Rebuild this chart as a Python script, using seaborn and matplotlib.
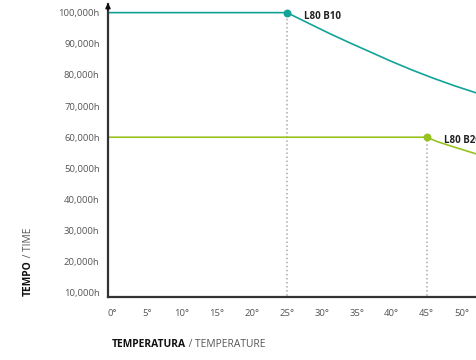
import numpy as np
import pandas as pd
import matplotlib
matplotlib.use('Agg')
import matplotlib.pyplot as plt
import seaborn as sns

# curve data (temperature in degrees, lifetime in hours)
b10_temp = [-1, 25, 28, 31, 34, 37, 40, 43, 46, 49, 52, 53]
b10_hours = [100000, 100000, 96700, 93400, 90300, 87300, 84300, 81500, 78900, 76500, 74300, 73600]
b20_temp = [-1, 45, 46.5, 48, 50, 52, 53]
b20_hours = [60000, 60000, 58600, 57500, 56100, 54700, 54100]

x_ticks = [0, 5, 10, 15, 20, 25, 30, 35, 40, 45, 50]
y_ticks = [10000, 20000, 30000, 40000, 50000, 60000, 70000, 80000, 90000, 100000]

teal = '#12a398'
green = '#98c21f'

df = pd.concat([
    pd.DataFrame({'temp': b10_temp, 'hours': b10_hours, 'curve': 'L80 B10'}),
    pd.DataFrame({'temp': b20_temp, 'hours': b20_hours, 'curve': 'L80 B20'}),
])

sns.set_style('white')
plt.rcParams['font.family'] = ['Open Sans', 'DejaVu Sans']

fig = plt.figure(figsize=(4.77, 3.6), dpi=100)
ax = fig.add_axes([0.2264, 0.175, 0.7736, 0.815])

sns.lineplot(data=df, x='temp', y='hours', hue='curve', palette=[teal, green],
             linewidth=1.2, legend=False, ax=ax)

# knee points with dotted drop lines
for t, h, c, lab in [(25, 100000, teal, 'L80 B10'), (45, 60000, green, 'L80 B20')]:
    ax.plot([t, t], [0, h], color='#aaaaaa', linestyle=':', linewidth=1.1, zorder=1)
    ax.scatter([t], [h], color=c, s=22, zorder=3)
    ax.text(t + 2.5, h - 1200, lab, fontsize=7, fontweight='bold', color='#222222',
            va='center', ha='left')

ax.set_xlim(-0.6, 52.2)
ax.set_ylim(8700, 102900)
ax.set_xticks(x_ticks)
ax.set_xticklabels([f'{t}°' for t in x_ticks])
ax.set_yticks(y_ticks)
ax.set_yticklabels([f'{v:,}h' for v in y_ticks])
ax.tick_params(axis='both', length=0, labelsize=6.8, colors='#555555')
ax.tick_params(axis='x', pad=9)
ax.tick_params(axis='y', pad=6)

for s in ['top', 'right']:
    ax.spines[s].set_visible(False)
for s in ['left', 'bottom']:
    ax.spines[s].set_color('#333333')
    ax.spines[s].set_linewidth(1.6)

# arrow on top of the y axis
ax.annotate('', xy=(0, 1.012), xytext=(0, 0.97), xycoords='axes fraction',
            arrowprops=dict(arrowstyle='-|>', color='#111111', lw=1.2,
                            mutation_scale=7))

ax.set_xlabel('')
ax.set_ylabel('')

# axis titles: bold part followed by light part
fig.canvas.draw()
r = fig.canvas.get_renderer()
t1 = fig.text(0.234, 0.043, 'TEMPERATURA', fontsize=7.4, fontweight='bold', color='#111111',
              ha='left', va='center')
bb = t1.get_window_extent(r)
fig.text(bb.x1 / fig.bbox.width, 0.043, ' / TEMPERATURE', fontsize=7.4, color='#555555',
         ha='left', va='center')
t2 = fig.text(0.06, 0.178, 'TEMPO', fontsize=7.4, fontweight='bold', color='#111111',
              rotation=90, ha='center', va='bottom')
bb = t2.get_window_extent(r)
fig.text(0.06, bb.y1 / fig.bbox.height, ' / TIME', fontsize=7.4, color='#555555',
         rotation=90, ha='center', va='bottom')

fig.savefig('out.png', dpi=100)
